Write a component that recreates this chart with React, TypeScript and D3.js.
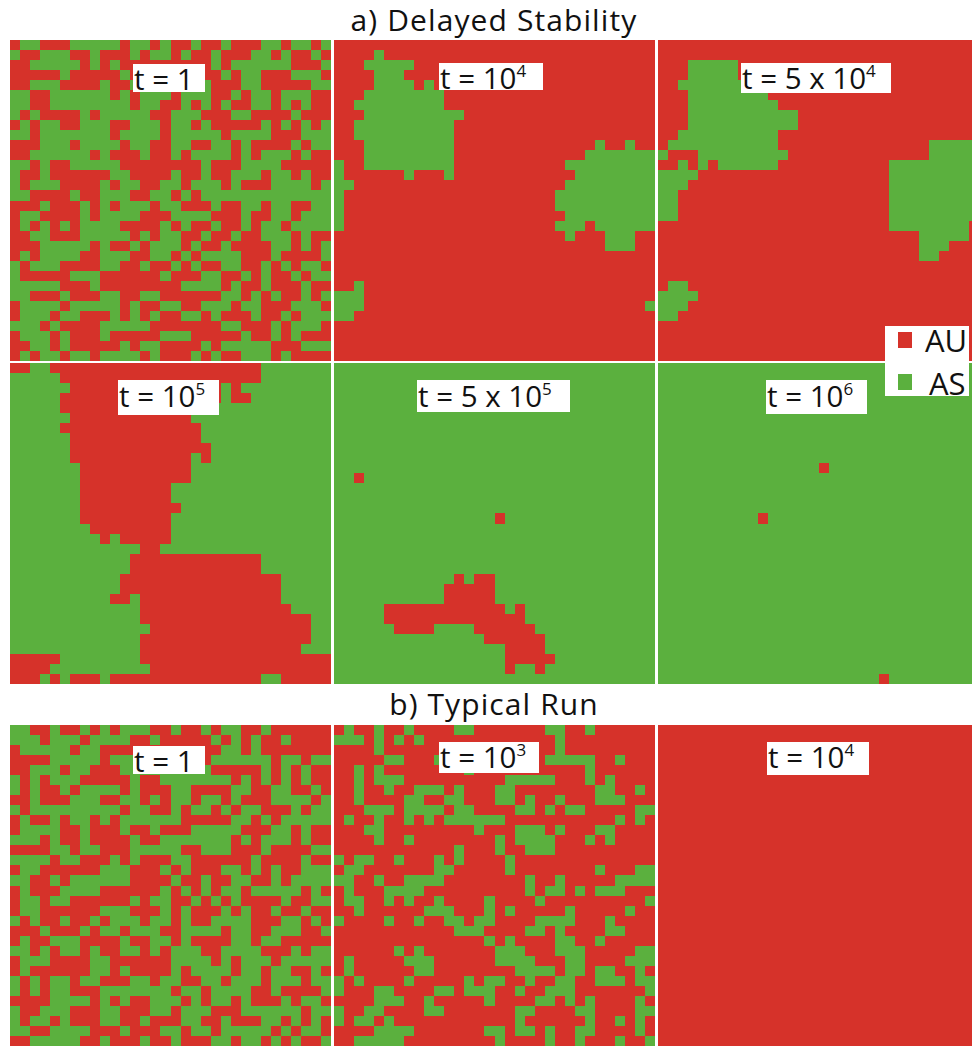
import React, { useEffect, useRef } from 'react'
import * as d3 from 'd3'

// 1 = AU (red), 0 = AS (green); one string per lattice row, spaces only group runs
const delayedT1 = [
  '1 00 111 00000 1 00 1 0 11 0 11 0 111 00 1 00 1 0',
  '0 11 000 11 0 111 0 1 00 1 0 11 0 111 00 1 0 11 0 1',
  '11 00000 1 0 1 0 111111111 0 1 000000 111 0',
  '11111 0 11111 0 1111111 11 0 1 00 111 000 1',
  '11 000 1111 0 11 0000000 0 111 00 11111 00',
  '00 11 000000 1 0 1 000 1 000 11 0 1 00 1 000 11',
  '00 11 00000000 1 00 11 0 1 0 1 0 11 00 1 0 1 0 11',
  '0 1 0 1111 0 1 00000 11 000 111 00 1111 0 111',
  '1 0 1 00 11 000 11 000 1 00 1 0 11111 0 1 0 1 0 1 0',
  '00 1 0000000 1 0000 1 00000 1 0000 111 000',
  '111 000 1 0000 1 00 11 00 11 00 1 0 1111 0 1 00',
  '11 000000 1 0 111 0 11 0 1 0000 1 0 1 000 1 0 11',
  '00 1 0 11 00000 11111111 0 111 0000 11111',
  '0 11 0 111111 00 1111 0 11 0 11 000 1 00 1 0 11',
  '0 1 000 1111 0 1 00 11 00 1 000 1 0 111 0000 1 0',
  '00 1111 0 11 000 11 00 1 0 1 0000000000000',
  '111 0 111 0 1 0 1 000 1 00 111 0 11 00 1 00 11 00',
  '1 00 1111 0 1 0000 111 0000 111 0 11 00 1 000',
  '1 0 1 0 1 0 1 0000 1111 0 1 0 11 0 11 0 1 00 1 0000',
  '11 00 111 00000 1 0 1 0 0 11 0 11 0 11 000 1 0 11',
  '111 00000 1 0 11 0 1 00 0 1 0 11 0 1111 00 1 0 1 0',
  '1 0 1 0000 11 000 11 00 1 0 1 0000 111 0 1111 0',
  '0 1 000 1111 00 11 0 11 0 1 0 11 00 11 0 1 0 1 00 1',
  '0 11111 000 111111 0 111 00 11 0 1 0 11 0 1 00',
  '00000 111 0 1111111 1 0000 1 0 11 0 111 0 11',
  '00 111 0 111 00 11 00 1 11111 00 1 0 1 0 11 0 1 0',
  '1 0000 1 00000 1 0 11 0 0 11 000 1 00 111 000 1',
  '1 000 1 00 111 0 1 0 1 0 1 1 00 1 0 111 0 11 0 1 000',
  '000 1 0 1111 00000 11 11111 00 111 0 1 000 1',
  '1 000 1 0 111 0 11111 0 00 11111 0 11 0 1 0 111',
  '11 00 1 0 11111 0 1 00 1 111 0 1 00000 111 000',
  '1 0 1 00 1 00 1 0000 1 0 1 11 0 1 0 11 000 1 0 1111',
]

const typicalT1 = [
  '00 11 0 11 0 1 0 1 000 11 0 11 0 1 00 11 0 111111',
  '000 1 000 1 0000 11 0 11111 0 1 0 1 0 11 0 1111',
  '1 00000 1 00 111 1111111 1 1 00 1 0 1111111',
  '1111 00000 1 00 0000000 1 000000 1 00 1 00',
  '11 000 1 00 111 0 0000000 0 11111 0 1 0 1 0 11',
  '0 1 0 1 000 11111 0 11 0000000 1 0 1 0 1 0 1 0 11',
  '0 1 0 11 0 1 0000 1 0 111 00 1111 00 11 00 11 0 1',
  '11 0 111 000 11 00 1 0 1 00 1 00 1 0 111 0000 1 0',
  '0 1 000000000 1 00 11 0 1 00 1 0 1 00 111 0 1 00',
  '1 0 11 0 1 00 1 0 1 000000 11111 00 1 0 1 00000',
  '1 0000 11 0 111 0 11 0 111 00000 111 00 1 0 11',
  '000 1 0 11 0 1111 0 11 0000000 1 0 1 000 1 0 11',
  '1111 00 1 00 111 00000 11 000 111 0 1111 00',
  '0000 1 00 111 0 1 0 111 00 111111 0 1111 0 11',
  '1 00 111111 000 111 0 1 0 111 00 1 0 1 0 11 000',
  '00 11 0 1 000000 1111 0 11 0 11 00 11 0 1 0000',
  '1 0 111 0000 111111 0 1 0 1 0 1 00 1 00000 1 0 1',
  '1 00 1 00 111111 0 1 00 11 0 1 0 1 0 1111 0 11 00',
  '1 00 111111 000 111 0 1 0 111 0 1 0 11 0 11 0 11',
  '0 1 0 11 0 11 0 1 000 1 00 1 0 11 0000 111 00 1 0 1',
  '111 0 111 0 1 00 1 000 1 1 0000 1 00 11 000 11 0',
  '1 0 11 000 1111 0 11 00 1 0 1111 00 1 00 11111',
  '00 1 0 1 00 1 0 11 00 1 0 1 000 11 0000 111 0 1 00',
  '1 000 1111 00 111111 0000 1 0 1 000 1 00000',
  '1 0 111111 00 1 0 1111 0 1 0000 1 00 1 00 11 0 1',
  '0 1 0 1 00 1 00 111 00 1 0 0 11 00 1 000 1 000 1 00',
  '0 1 0 1 00 111 0000000 1 00 1 0000 11 0 1111 0',
  '1111 0000 1 0 1 0 11 00 0 1 0 1 00 1 0 111 0 1 00 1',
  '0 11 000 111 00 111 00 1 000 111 000000 1 00',
  '0 1 00 1 0 111 00 11 0 11 1 00 11 0 111 00 1 0 1 0 1',
  '00 11 0000 111 0 111 0 0 1 00 1 00000 1 0 1 00 1',
  '11 00000 11 0 111 0 11 0 111 00 1 00 1 0 1 0 11 0',
]

// [row, first column, last column] runs of the minority strategy
type Run = [number, number, number]

const delayedT1e4: Run[] = [
  [1, 4, 4], [2, 3, 7], [3, 4, 6], [4, 4, 7], [4, 9, 9], [5, 3, 10], [6, 2, 10], [7, 3, 12], [8, 2, 11], [9, 2, 11],
  [10, 3, 11], [10, 26, 26], [10, 29, 29], [11, 3, 11], [11, 25, 31], [12, 0, 0], [12, 3, 11], [12, 23, 31],
  [13, 0, 0], [13, 7, 7], [13, 11, 11], [13, 24, 31], [14, 0, 1], [14, 23, 31], [15, 0, 0], [15, 22, 31],
  [16, 0, 0], [16, 22, 31], [17, 0, 0], [17, 23, 31], [18, 0, 0], [18, 22, 24], [18, 26, 31], [19, 23, 23],
  [19, 27, 29], [20, 27, 29], [24, 2, 2], [25, 0, 2], [26, 0, 2], [26, 31, 31], [27, 0, 1],
]

const delayedT5e4: Run[] = [
  [2, 3, 7], [3, 3, 7], [4, 2, 8], [5, 3, 10], [6, 3, 11], [7, 3, 13], [8, 3, 13], [9, 2, 11], [10, 1, 11], [10, 27, 31],
  [11, 0, 0], [11, 4, 12], [11, 27, 31], [12, 2, 2], [12, 4, 4], [12, 6, 11], [12, 23, 31], [13, 0, 3], [13, 23, 31],
  [14, 0, 2], [14, 23, 31], [15, 0, 1], [15, 23, 31], [16, 0, 1], [16, 23, 31], [17, 0, 1], [17, 23, 31], [18, 23, 30],
  [19, 26, 30], [20, 26, 28], [21, 26, 27], [24, 1, 2], [25, 0, 3], [26, 0, 2], [27, 0, 1],
]

const delayedT1e5: Run[] = [
  [0, 0, 1], [0, 4, 24], [1, 5, 24], [2, 6, 20], [2, 22, 22], [3, 5, 20], [3, 22, 23], [4, 5, 19], [5, 6, 17], [6, 5, 18],
  [7, 6, 18], [8, 6, 19], [9, 6, 17], [9, 19, 19], [10, 7, 17], [11, 7, 17], [12, 7, 15], [13, 7, 15], [14, 7, 16],
  [15, 7, 15], [16, 8, 15], [17, 9, 9], [17, 11, 15], [18, 13, 14], [19, 12, 24], [20, 12, 24], [21, 11, 26], [22, 11, 26],
  [23, 10, 11], [23, 13, 26], [24, 13, 27], [25, 13, 29], [26, 14, 29], [27, 13, 29], [28, 13, 28], [29, 0, 4], [29, 13, 31],
  [30, 0, 3], [30, 14, 31], [31, 0, 2], [31, 4, 4], [31, 6, 8], [31, 10, 24], [31, 27, 31],
]

const delayedT5e5: Run[] = [
  [11, 2, 2], [15, 16, 16], [21, 12, 12], [21, 14, 15], [22, 11, 15], [23, 11, 15], [24, 5, 16], [24, 18, 18], [25, 5, 18],
  [26, 6, 9], [26, 14, 19], [27, 15, 20], [28, 17, 20], [29, 17, 21], [30, 17, 17], [30, 20, 20],
]

const delayedT1e6: Run[] = [[10, 16, 16], [15, 10, 10], [31, 22, 22]]

const typicalT1e3: Run[] = [
  [0, 1, 1], [0, 4, 4], [0, 7, 7], [0, 12, 13], [0, 21, 22], [0, 25, 25],
  [1, 0, 2], [1, 4, 4], [1, 6, 6], [1, 8, 8], [1, 22, 22],
  [2, 4, 4], [2, 22, 22],
  [3, 5, 6], [3, 10, 10], [3, 21, 25], [3, 28, 28],
  [4, 2, 2], [4, 4, 4], [4, 13, 13], [4, 25, 25],
  [5, 2, 2], [5, 4, 6], [5, 17, 21], [5, 25, 25], [5, 27, 27],
  [6, 2, 2], [6, 5, 5], [6, 8, 10], [6, 12, 12], [6, 16, 17], [6, 26, 27], [6, 30, 30],
  [7, 2, 2], [7, 7, 8], [7, 11, 12], [7, 16, 17], [7, 19, 19], [7, 22, 22], [7, 26, 28],
  [8, 3, 5], [8, 7, 10], [8, 12, 13], [8, 18, 19], [8, 21, 21], [8, 23, 24], [8, 30, 31],
  [9, 1, 1], [9, 4, 4], [9, 7, 7], [9, 9, 9], [9, 11, 16], [9, 28, 28], [9, 30, 30],
  [10, 3, 4], [10, 14, 14], [10, 18, 20], [10, 22, 22], [10, 26, 27],
  [11, 4, 4], [11, 7, 7], [11, 16, 16], [11, 18, 21], [11, 25, 25], [11, 27, 27],
  [12, 12, 12], [12, 16, 16], [12, 19, 21],
  [13, 0, 0], [13, 2, 3], [13, 6, 6], [13, 10, 10], [13, 12, 12], [13, 17, 17],
  [14, 1, 2], [14, 10, 11], [14, 17, 17], [14, 26, 26], [14, 30, 31],
  [15, 0, 1], [15, 4, 4], [15, 7, 10], [15, 19, 19], [15, 22, 22], [15, 28, 31],
  [16, 1, 1], [16, 5, 8], [16, 19, 19], [16, 21, 22], [16, 24, 24], [16, 26, 28],
  [17, 1, 2], [17, 5, 5], [17, 7, 7], [17, 10, 10], [17, 15, 15], [17, 20, 20], [17, 31, 31],
  [18, 2, 2], [18, 9, 11], [18, 15, 15], [18, 17, 17], [18, 23, 23], [18, 29, 29],
  [19, 0, 0], [19, 5, 5], [19, 8, 8], [19, 11, 12], [19, 14, 15], [19, 20, 23], [19, 27, 27],
  [20, 12, 14], [20, 19, 20], [20, 22, 22], [20, 27, 28],
  [21, 15, 15], [21, 17, 17], [21, 22, 23], [21, 26, 26],
  [22, 6, 6], [22, 8, 8], [22, 16, 18], [22, 22, 24], [22, 30, 31],
  [23, 1, 1], [23, 7, 9], [23, 16, 19], [23, 23, 24], [23, 29, 31],
  [24, 1, 1], [24, 8, 9], [24, 18, 21], [24, 23, 24], [24, 26, 27], [24, 30, 30],
  [25, 0, 0], [25, 2, 2], [25, 7, 7], [25, 13, 13], [25, 15, 16], [25, 19, 19], [25, 22, 23], [25, 26, 28], [25, 30, 31],
  [26, 0, 0], [26, 4, 5], [26, 10, 11], [26, 13, 15], [26, 18, 18], [26, 21, 23], [26, 31, 31],
  [27, 4, 6], [27, 9, 9], [27, 15, 15], [27, 20, 21], [27, 23, 23], [27, 25, 25], [27, 30, 30],
  [28, 0, 0], [28, 3, 4], [28, 9, 10], [28, 18, 19], [28, 24, 25], [28, 30, 31],
  [29, 0, 0], [29, 2, 3], [29, 5, 5], [29, 18, 18], [29, 25, 25], [29, 28, 28], [29, 30, 30],
  [30, 4, 7], [30, 15, 16], [30, 18, 19], [30, 21, 21], [30, 24, 25], [30, 30, 30],
  [31, 2, 6], [31, 16, 16], [31, 21, 21], [31, 24, 24], [31, 28, 28], [31, 31, 31],
]

const typicalT1e4: Run[] = []

const AU = '#d6322a'
const AS = '#5bb03e'
const SIZE = 32
const FONT = '"Open Sans", "Noto Sans", sans-serif'

const expand = (rows: string[]) => rows.map((r) => r.replace(/ /g, ''))

const fromRuns = (runs: Run[], base: string, mark: string) => {
  const grid = d3.range(SIZE).map(() => d3.range(SIZE).map(() => base))
  runs.forEach(([r, a, b]) => {
    for (let c = a; c <= b; c++) grid[r][c] = mark
  })
  return grid.map((r) => r.join(''))
}

const panels = [
  { x: 10, y: 40, rows: expand(delayedT1), label: 't = 1', sup: '', box: [133, 64, 72, 28], base: 90 },
  { x: 334, y: 40, rows: fromRuns(delayedT1e4, '1', '0'), label: 't = 10', sup: '4', box: [439, 63, 104, 27], base: 89 },
  { x: 658, y: 40, rows: fromRuns(delayedT5e4, '1', '0'), label: 't = 5 x 10', sup: '4', box: [741, 63, 150, 30], base: 89 },
  { x: 10, y: 363, rows: fromRuns(delayedT1e5, '0', '1'), label: 't = 10', sup: '5', box: [118, 380, 101, 35], base: 407 },
  { x: 334, y: 363, rows: fromRuns(delayedT5e5, '0', '1'), label: 't = 5 x 10', sup: '5', box: [417, 380, 153, 32], base: 407 },
  { x: 658, y: 363, rows: fromRuns(delayedT1e6, '0', '1'), label: 't = 10', sup: '6', box: [766, 380, 101, 34], base: 407 },
  { x: 10, y: 725, rows: expand(typicalT1), label: 't = 1', sup: '', box: [133, 746, 72, 28], base: 772 },
  { x: 334, y: 725, rows: fromRuns(typicalT1e3, '1', '0'), label: 't = 10', sup: '3', box: [439, 742, 100, 31], base: 768 },
  { x: 658, y: 725, rows: fromRuns(typicalT1e4, '1', '0'), label: 't = 10', sup: '4', box: [767, 742, 102, 33], base: 768 },
]

const titles = [
  { text: 'a) Delayed Stability', y: 31, x: 494 },
  { text: 'b) Typical Run', y: 715, x: 494 },
]

const legend = [
  { name: 'AU', color: AU, sy: 332, sh: 16, tx: 925, ty: 352 },
  { name: 'AS', color: AS, sy: 374, sh: 16, tx: 929, ty: 395 },
]

const App = () => {
  const ref = useRef<SVGSVGElement>(null)

  useEffect(() => {
    const svg = d3.select(ref.current)
    svg.selectAll('*').remove()

    panels.forEach((p) => {
      const xScale = d3.scaleLinear().domain([0, SIZE]).range([p.x, p.x + 321])
      const yScale = d3.scaleLinear().domain([0, SIZE]).range([p.y, p.y + 321])

      const cells: { r: number; c: number; v: string }[] = []
      p.rows.forEach((row, r) => {
        row.split('').forEach((v, c) => cells.push({ r, c, v }))
      })

      const g = svg.append('g')
      g.selectAll('rect')
        .data(cells)
        .enter()
        .append('rect')
        .attr('x', (d) => Math.round(xScale(d.c)))
        .attr('y', (d) => Math.round(yScale(d.r)))
        .attr('width', (d) => Math.round(xScale(d.c + 1)) - Math.round(xScale(d.c)))
        .attr('height', (d) => Math.round(yScale(d.r + 1)) - Math.round(yScale(d.r)))
        .attr('fill', (d) => (d.v === '1' ? AU : AS))
        .attr('shape-rendering', 'crispEdges')

      g.append('rect')
        .attr('x', p.box[0])
        .attr('y', p.box[1])
        .attr('width', p.box[2])
        .attr('height', p.box[3])
        .attr('fill', 'white')

      const label = g
        .append('text')
        .attr('x', p.box[0] + 1)
        .attr('y', p.base)
        .attr('font-family', FONT)
        .attr('font-size', 29.5)
        .attr('fill', '#111')
        .text(p.label)
      if (p.sup) {
        label
          .append('tspan')
          .attr('font-size', 17)
          .attr('dy', -12)
          .text(p.sup)
      }
    })

    svg
      .selectAll('text.title')
      .data(titles)
      .enter()
      .append('text')
      .attr('class', 'title')
      .attr('x', (d) => d.x)
      .attr('y', (d) => d.y)
      .attr('text-anchor', 'middle')
      .attr('font-family', FONT)
      .attr('font-size', 30)
      .attr('letter-spacing', 1.1)
      .attr('fill', '#111')
      .text((d) => d.text)

    svg
      .append('rect')
      .attr('x', 885)
      .attr('y', 326)
      .attr('width', 84)
      .attr('height', 70)
      .attr('fill', 'white')

    const items = svg.selectAll('g.legend').data(legend).enter().append('g').attr('class', 'legend')
    items
      .append('rect')
      .attr('x', 898)
      .attr('y', (d) => d.sy)
      .attr('width', 14)
      .attr('height', (d) => d.sh)
      .attr('fill', (d) => d.color)
    items
      .append('text')
      .attr('x', (d) => d.tx)
      .attr('y', (d) => d.ty)
      .attr('font-family', FONT)
      .attr('font-size', 31)
      .attr('fill', '#111')
      .text((d) => d.name)
  }, [])

  return (
    <svg
      ref={ref}
      width={972}
      height={1047}
      style={{ position: 'absolute', left: 0, top: 0, background: 'white' }}
    />
  )
}

export default App
